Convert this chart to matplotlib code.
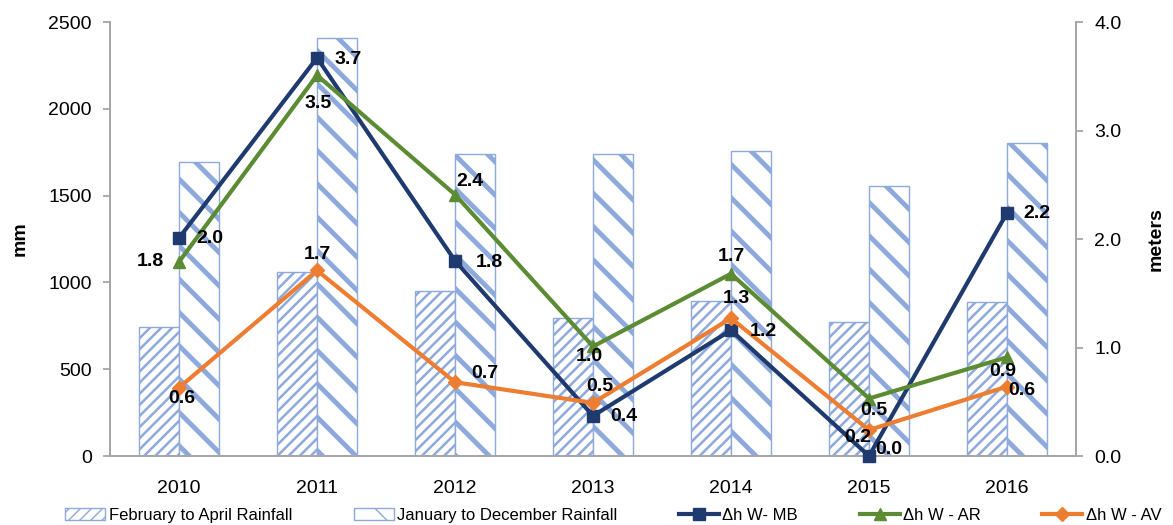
import numpy as np
import matplotlib
matplotlib.use('Agg')
import matplotlib.pyplot as plt
from matplotlib.patches import Patch
from matplotlib.lines import Line2D

plt.rcParams['font.family'] = ['Liberation Sans', 'DejaVu Sans']

# Rainfall (mm) and water level change (m) per year
years = ['2010', '2011', '2012', '2013', '2014', '2015', '2016']
feb_apr_rain = [743, 1060, 950, 795, 893, 772, 889]
jan_dec_rain = [1693, 2408, 1740, 1740, 1757, 1555, 1801]
dh_mb = [2.01, 3.67, 1.80, 0.37, 1.16, 0.00, 2.24]
dh_ar = [1.79, 3.51, 2.41, 1.01, 1.68, 0.53, 0.91]
dh_av = [0.63, 1.71, 0.68, 0.49, 1.27, 0.24, 0.64]

# label offsets in pixels (dx right, dy down) for each point
off_mb = [(31, 1), (31, 2), (34, 2), (31, 1), (32, 1), (20, -7), (30, 1)]
off_ar = [(-29, 0), (1, 28), (15, -13), (-4, 10), (0, -17), (5, 12), (-4, 14)]
off_av = [(3, 11), (0, -16), (30, -9), (7, -16), (5, -20), (-11, 8), (15, 4)]

bar_col = '#8EA9DB'
c_mb = '#1F3A6E'
c_ar = '#5B8C34'
c_av = '#ED7D31'

fig = plt.figure(figsize=(11.73, 5.25), dpi=100)
ax = fig.add_axes([0.0938, 0.1314, 0.8235, 0.8266])
ax2 = ax.twinx()

x = np.arange(len(years))
w = 0.29
b1 = ax.bar(x - w / 2, feb_apr_rain, w, facecolor='white', edgecolor=bar_col,
            hatch='///', linewidth=1.0)
b2 = ax.bar(x + w / 2, jan_dec_rain, w, facecolor='white', edgecolor=bar_col,
            hatch='\\', linewidth=1.0)
for p in b1:
    p.set_hatch_linewidth(1.8)
for p in b2:
    p.set_hatch_linewidth(3.5)

ax.set_xlim(-0.5, 6.5)
ax.set_ylim(0, 2500)
ax.set_yticks(range(0, 2501, 500))
ax.set_xticks(x)
ax.set_xticklabels(years)
ax2.set_ylim(0, 4.0)
ax2.set_yticks(np.arange(0, 4.01, 1.0))
ax2.set_yticklabels([f'{v:.1f}' for v in np.arange(0, 4.01, 1.0)])

for a in (ax, ax2):
    for s in a.spines.values():
        s.set_color('#A6A6A6')
        s.set_linewidth(1.3)
    a.spines['top'].set_visible(False)
    a.tick_params(labelsize=14, color='#A6A6A6', length=5, width=1.3, pad=8)
ax.tick_params(axis='x', length=0, pad=17)
ax.set_ylabel('mm', fontsize=14, fontweight='bold', labelpad=14)
ax2.set_ylabel('meters', fontsize=14, fontweight='bold', labelpad=19)

series = [(dh_mb, c_mb, 's', 8, off_mb),
          (dh_ar, c_ar, '^', 9, off_ar),
          (dh_av, c_av, 'D', 7, off_av)]
for vals, col, mk, ms, offs in series:
    ax2.plot(x, vals, color=col, lw=3, marker=mk, markersize=ms, clip_on=False, zorder=3)
for vals, col, mk, ms, offs in series:
    for xi, v, (dx, dy) in zip(x, vals, offs):
        ax2.annotate(f'{v:.1f}', (xi, v), xytext=(dx, -dy), textcoords='offset pixels',
                     ha='center', va='center', fontsize=14, fontweight='bold', zorder=5)

handles = [
    Patch(facecolor='white', edgecolor=bar_col, hatch='///'),
    Patch(facecolor='white', edgecolor=bar_col, hatch='\\'),
    Line2D([], [], color=c_mb, lw=3, marker='s', markersize=8),
    Line2D([], [], color=c_ar, lw=3, marker='^', markersize=9),
    Line2D([], [], color=c_av, lw=3, marker='D', markersize=7),
]
labels = ['February to April Rainfall', 'January to December Rainfall',
          'Δh W- MB', 'Δh W - AR', 'Δh W - AV']
fig.legend(handles, labels, loc='center', bbox_to_anchor=(0.523, 0.018), ncol=5,
           frameon=False, fontsize=12, handlelength=2.4, handletextpad=0.2,
           columnspacing=3.7)

fig.savefig('out.png', dpi=100)
